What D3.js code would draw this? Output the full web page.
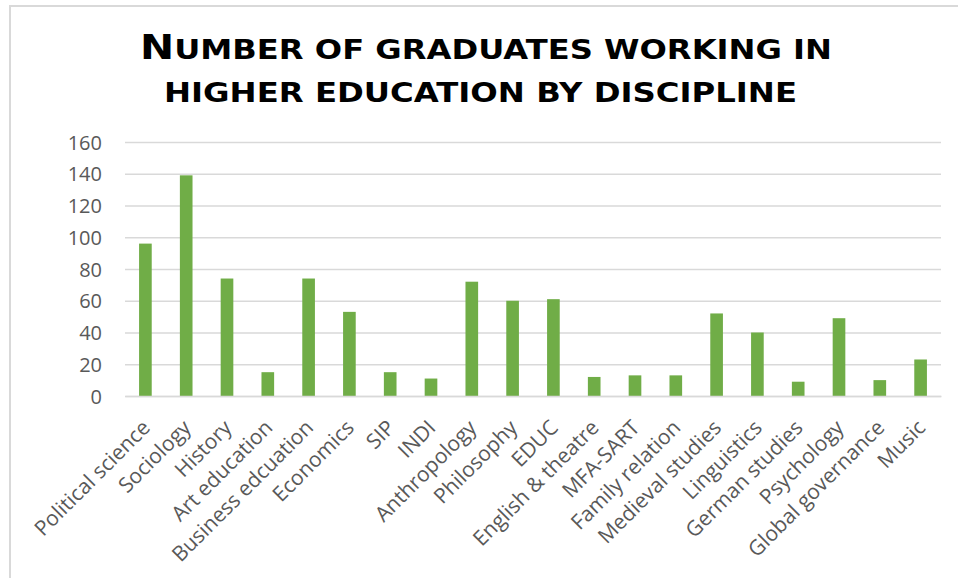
<!DOCTYPE html>
<html>
<head>
<meta charset="utf-8">
<script src="https://cdn.jsdelivr.net/npm/d3@7"></script>
<style>
  html, body { margin: 0; padding: 0; background: #fff; }
  svg { display: block; }
</style>
</head>
<body>
<svg id="chart" width="958" height="578"></svg>
<script>
const categories = ["Political science", "Sociology", "History", "Art education", "Business edcuation",
  "Economics", "SIP", "INDI", "Anthropology", "Philosophy", "EDUC", "English & theatre", "MFA-SART",
  "Family relation", "Medieval studies", "Linguistics", "German studies", "Psychology",
  "Global governance", "Music"];
const values = [96, 139, 74, 15, 74, 53, 15, 11, 72, 60, 61, 12, 13, 13, 52, 40, 9, 49, 10, 23];
const yTicks = [0, 20, 40, 60, 80, 100, 120, 140, 160];
const titleLines = ["Number of graduates working in", "higher education by discipline"];

const svg = d3.select("#chart");
const W = 958, H = 578;
const plot = { left: 125, right: 941, top: 142, bottom: 396 };

// chart border
svg.append("rect")
  .attr("x", 10).attr("y", 6).attr("width", W + 20).attr("height", H + 20)
  .attr("fill", "#fff").attr("stroke", "#d9d9d9").attr("stroke-width", 2);

// title (manual small caps: capital initials larger)
const tl = [
  { y: 59, x0: 140, x1: 832 },
  { y: 102, x0: 164, x1: 797 }
];
titleLines.forEach((t, i) => {
  const txt = svg.append("text")
    .attr("x", tl[i].x0)
    .attr("y", tl[i].y)
    .attr("textLength", tl[i].x1 - tl[i].x0)
    .attr("lengthAdjust", "spacingAndGlyphs")
    .attr("font-family", "'DejaVu Sans', sans-serif")
    .attr("font-weight", "bold")
    .attr("fill", "#000");
  const runs = [];
  for (const ch of t) {
    const big = ch !== ch.toLowerCase();
    if (runs.length && runs[runs.length - 1].big === big) runs[runs.length - 1].s += ch;
    else runs.push({ big, s: ch });
  }
  runs.forEach(r => {
    txt.append("tspan")
      .attr("font-size", r.big ? 33 : 26)
      .text(r.s.toUpperCase());
  });
});

const x = d3.scaleBand().domain(categories).range([plot.left, plot.right]).paddingInner(0.69).paddingOuter(0.345);
const y = d3.scaleLinear().domain([0, 160]).range([plot.bottom, plot.top]);

// gridlines
const grid = svg.append("g")
  .attr("transform", `translate(${plot.left},0)`)
  .call(d3.axisLeft(y).tickValues(yTicks).tickSize(-(plot.right - plot.left)).tickFormat(""));
grid.select(".domain").remove();
grid.selectAll(".tick line").attr("stroke", "#d9d9d9").attr("stroke-width", 1.5);

// y axis labels
const yAxis = svg.append("g")
  .attr("transform", `translate(${plot.left - 23},0)`)
  .call(d3.axisLeft(y).tickValues(yTicks).tickSize(0).tickPadding(0));
yAxis.select(".domain").remove();
yAxis.selectAll("text")
  .attr("font-family", "'Open Sans', sans-serif")
  .attr("font-size", 20)
  .attr("fill", "#595959")
  .attr("dy", "0.35em");

// bars
svg.append("g").selectAll("rect")
  .data(categories.map((c, i) => ({ c, v: values[i] })))
  .join("rect")
  .attr("x", d => x(d.c))
  .attr("y", d => y(d.v))
  .attr("width", x.bandwidth())
  .attr("height", d => y(0) - y(d.v))
  .attr("fill", "#70ad47");

// x axis labels
const xAxis = svg.append("g")
  .attr("transform", `translate(0,${plot.bottom})`)
  .call(d3.axisBottom(x).tickSize(0).tickPadding(0));
xAxis.select(".domain").attr("stroke", "#d9d9d9").attr("stroke-width", 1.5);
xAxis.selectAll("text")
  .attr("font-family", "'Open Sans', sans-serif")
  .attr("font-size", 21)
  .attr("fill", "#595959")
  .attr("text-anchor", "end")
  .attr("dy", null)
  .attr("y", null)
  .attr("transform", "translate(6,33) rotate(-45)");
</script>
</body>
</html>
